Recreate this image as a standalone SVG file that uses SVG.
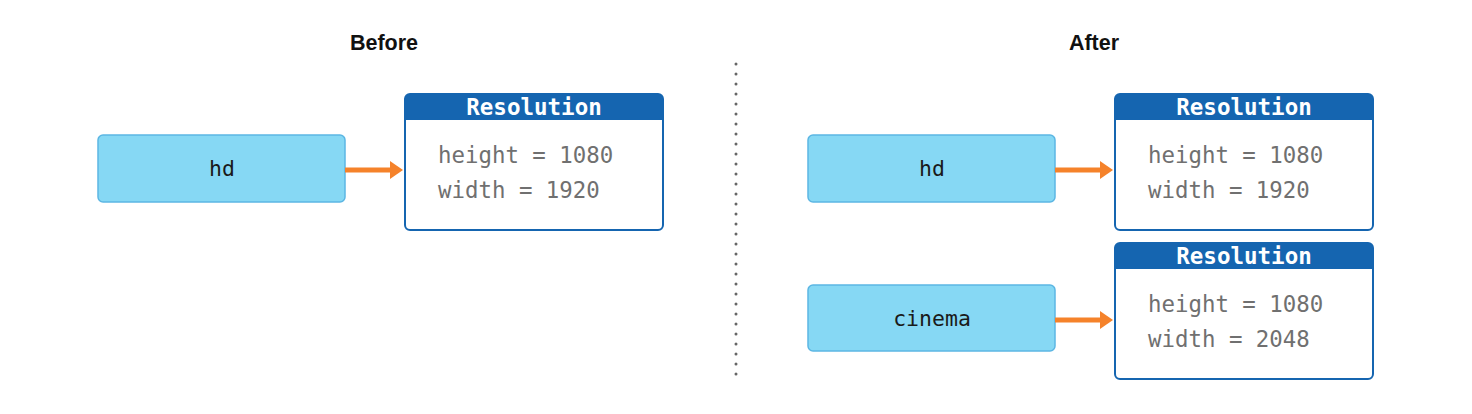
<svg xmlns="http://www.w3.org/2000/svg" width="1472" height="414" viewBox="0 0 1472 414">
<style>
.title{font-family:"Liberation Sans",Arial,sans-serif;font-weight:bold;font-size:21.5px;fill:#111;text-anchor:middle}
.var{fill:#86d8f4;stroke:#5cb6e3;stroke-width:1.5}
.vlabel{font-family:"DejaVu Sans Mono","Liberation Mono",monospace;font-size:21.5px;fill:#1a1a1a;text-anchor:middle}
.obj{fill:#fff;stroke:#1565b0;stroke-width:2}
.hdr{fill:#1565b0}
.htext{font-family:"DejaVu Sans Mono","Liberation Mono",monospace;font-weight:bold;font-size:22.5px;fill:#fff;text-anchor:middle}
.prop{font-family:"DejaVu Sans Mono","Liberation Mono",monospace;font-size:22.4px;fill:#707070}
.conn{stroke:#f5822a;stroke-width:5;fill:none}
</style>
<defs>
<marker id="ah" markerWidth="10" markerHeight="10" refX="0" refY="5" orient="auto" markerUnits="userSpaceOnUse" viewBox="0 0 10 10" overflow="visible">
<path d="M0,-4 L13,5 L0,14 Z" fill="#f5822a"/>
</marker>
</defs>
<text class="title" x="384" y="50">Before</text>
<text class="title" x="1094" y="50">After</text>
<line x1="736" y1="64" x2="736" y2="382" stroke="#666" stroke-width="3" stroke-linecap="round" stroke-dasharray="0 10"/>
<g id="hd-before">
<rect class="var" x="98" y="135" width="247" height="67" rx="5"/>
<text class="vlabel" x="222" y="176">hd</text>
</g>
<g id="res-before">
<rect class="obj" x="405" y="94" width="258" height="136" rx="5"/>
<path class="hdr" d="M405,99 a5,5 0 0 1 5,-5 h248 a5,5 0 0 1 5,5 v21 h-258 z"/>
<text class="htext" x="534" y="115">Resolution</text>
<text class="prop" x="438" y="163">height = 1080</text>
<text class="prop" x="438" y="198">width = 1920</text>
</g>
<g id="hd-after">
<rect class="var" x="808" y="135" width="247" height="67" rx="5"/>
<text class="vlabel" x="932" y="176">hd</text>
</g>
<g id="res-after-1">
<rect class="obj" x="1115" y="94" width="258" height="136" rx="5"/>
<path class="hdr" d="M1115,99 a5,5 0 0 1 5,-5 h248 a5,5 0 0 1 5,5 v21 h-258 z"/>
<text class="htext" x="1244" y="115">Resolution</text>
<text class="prop" x="1148" y="163">height = 1080</text>
<text class="prop" x="1148" y="198">width = 1920</text>
</g>
<g id="cinema">
<rect class="var" x="808" y="285" width="247" height="66" rx="5"/>
<text class="vlabel" x="932" y="326">cinema</text>
</g>
<g id="res-after-2">
<rect class="obj" x="1115" y="243" width="258" height="136" rx="5"/>
<path class="hdr" d="M1115,248 a5,5 0 0 1 5,-5 h248 a5,5 0 0 1 5,5 v21 h-258 z"/>
<text class="htext" x="1244" y="264">Resolution</text>
<text class="prop" x="1148" y="312">height = 1080</text>
<text class="prop" x="1148" y="347">width = 2048</text>
</g>
<g id="connectors">
<line class="conn" x1="345" y1="170" x2="390" y2="170" marker-end="url(#ah)"/>
<line class="conn" x1="1055" y1="170" x2="1100" y2="170" marker-end="url(#ah)"/>
<line class="conn" x1="1055" y1="320" x2="1100" y2="320" marker-end="url(#ah)"/>
</g>
</svg>
